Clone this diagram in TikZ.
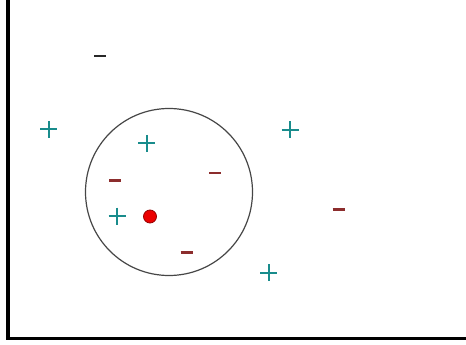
\documentclass[tikz,border=0pt]{standalone}
\definecolor{plusc}{RGB}{25,140,140}
\definecolor{minusc}{RGB}{140,45,45}
\definecolor{blackminus}{RGB}{40,40,40}
\definecolor{dotred}{RGB}{235,0,0}
\definecolor{dotedge}{RGB}{150,0,0}
\definecolor{circc}{RGB}{70,70,70}
\tikzset{
  axisline/.style={line width=2.3pt,black},
  ring/.style={line width=0.9pt,draw=circc},
  plussign/.pic={\draw[line width=1.5pt,plusc] (-8.5,0) -- (8.5,0) (0,-8.5) -- (0,8.5);},
  minussign/.pic={\draw[line width=1.8pt,minusc] (-6,0) -- (6,0);},
  darkminus/.pic={\draw[line width=2pt,blackminus] (-6,0) -- (6,0);}
}
\begin{document}
\begin{tikzpicture}[x=0.75pt,y=-0.75pt]
\useasboundingbox (0,0) rectangle (466,345);
% axes
\coordinate (top) at (8,0);
\coordinate (origin) at (8,338.5);
\coordinate (right) at (466,338.5);
\draw[axisline] (top) -- (origin) -- (right);
% circle
\draw[ring] (169,192) circle (83.5);
% plus signs
\pic at (48.5,129.5) {plussign};
\pic at (146.5,143.5) {plussign};
\pic at (290,130) {plussign};
\pic at (117,216) {plussign};
\pic at (268.5,272.5) {plussign};
% minus signs
\pic at (100,56) {darkminus};
\pic at (115,180.5) {minussign};
\pic at (215,173) {minussign};
\pic at (338.5,209.5) {minussign};
\pic at (186.5,252.5) {minussign};
% red dot
\fill[dotred,draw=dotedge,line width=0.6pt] (150,216.5) circle (6.5);
\end{tikzpicture}
\end{document}
